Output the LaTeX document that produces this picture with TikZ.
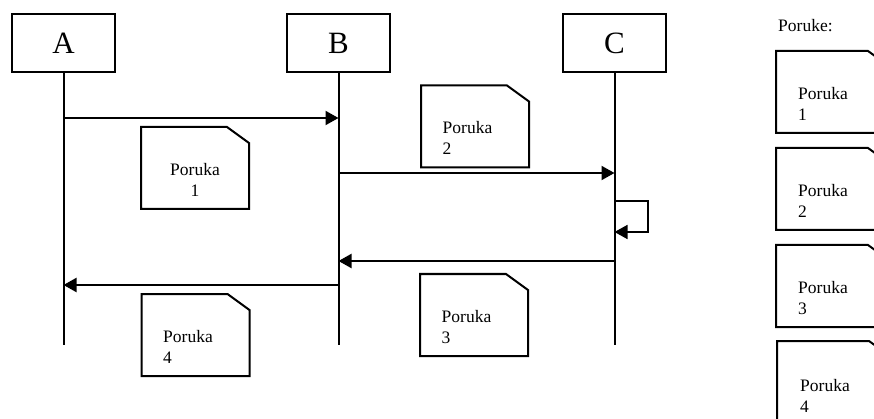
\documentclass[tikz,border=0pt]{standalone}
\usepackage{fontspec}
\setmainfont{Liberation Serif}
\usetikzlibrary{arrows.meta}
\begin{document}
\begin{tikzpicture}[x=1pt,y=-1pt,
  head/.style={draw, line width=2pt, minimum width=103pt, minimum height=58pt, inner sep=0pt, font=\fontsize{31}{31}\selectfont},
  life/.style={line width=2pt},
  msg/.style={line width=2pt, -{Triangle[length=13pt,width=14pt]}},
  noteline/.style={line width=2pt},
  note/.style={minimum width=108pt, minimum height=82pt, inner sep=0pt, outer sep=0pt,
    append after command={\pgfextra{\let\nb\tikzlastnode
      \draw[noteline] (\nb.south west) -- (\nb.north west) -- ([xshift=-22pt]\nb.north east)
        -- ([shift={(0,16)}]\nb.north east) -- (\nb.south east) -- cycle;}}},
  rnote/.style={note, noteline/.append style={line width=1.8pt}, minimum width=114pt},
  ntext/.style={font=\fontsize{17.5}{21}\selectfont, inner sep=0pt, align=left, anchor=base west}]
\clip (0,0) rectangle (874,419);
% heads
\node[head] (A) at (63.5,43) {A};
\node[head] (B) at (338.5,43) {B};
\node[head] (C) at (614.5,43) {C};
% lifelines
\coordinate (Aend) at (A.south |- 0,345);
\coordinate (Bend) at (B.south |- 0,345);
\coordinate (Cend) at (C.south |- 0,345);
\draw[life] (A) -- (Aend);
\draw[life] (B) -- (Bend);
\draw[life] (C) -- (Cend);
% messages
\coordinate (a1) at (A.south |- 0,118);
\coordinate (b1) at (B.south |- 0,118);
\draw[msg] (a1) -- (b1);
\coordinate (b2) at (B.south |- 0,173);
\coordinate (c2) at (C.south |- 0,173);
\draw[msg] (b2) -- (c2);
\coordinate (cl1) at (C.south |- 0,201);
\coordinate (clm) at (648,216);
\coordinate (cl2) at (C.south |- 0,232);
\draw[msg, line width=1.6pt] (cl1) -| (clm) |- (cl2);
\coordinate (c3) at (C.south |- 0,261);
\coordinate (b3) at (B.south |- 0,261);
\draw[msg] (c3) -- (b3);
\coordinate (b4) at (B.south |- 0,285);
\coordinate (a4) at (A.south |- 0,285);
\draw[msg] (b4) -- (a4);
% notes
\node[note] (m1) at (195,168) {};
\node[ntext, anchor=base, align=center] (t1) at ([shift={(0,69.5)}]m1.north) {Poruka\\1};
\node[note] (m2) at (475,126.5) {};
\node[ntext] (t2) at ([shift={(21.5,69.5)}]m2.north west) {Poruka\\2};
\node[note] (m3) at (474,315) {};
\node[ntext] (t3) at ([shift={(21.5,69.5)}]m3.north west) {Poruka\\3};
\node[note] (m4) at (195.5,335) {};
\node[ntext] (t4) at ([shift={(21.5,69.5)}]m4.north west) {Poruka\\4};
% legend
\node[ntext] (title) at (778,32) {Poruke:};
\node[rnote] (r1) at (833,92) {};
\node[ntext] (rt1) at ([shift={(22,69.5)}]r1.north west) {Poruka\\1};
\node[rnote] (r2) at (833,189) {};
\node[ntext] (rt2) at ([shift={(22,69.5)}]r2.north west) {Poruka\\2};
\node[rnote] (r3) at (833,286) {};
\node[ntext] (rt3) at ([shift={(22,69.5)}]r3.north west) {Poruka\\3};
\node[rnote] (r4) at (834,382) {};
\node[ntext] (rt4) at ([shift={(23,71)}]r4.north west) {Poruka\\4};
\end{tikzpicture}
\end{document}
